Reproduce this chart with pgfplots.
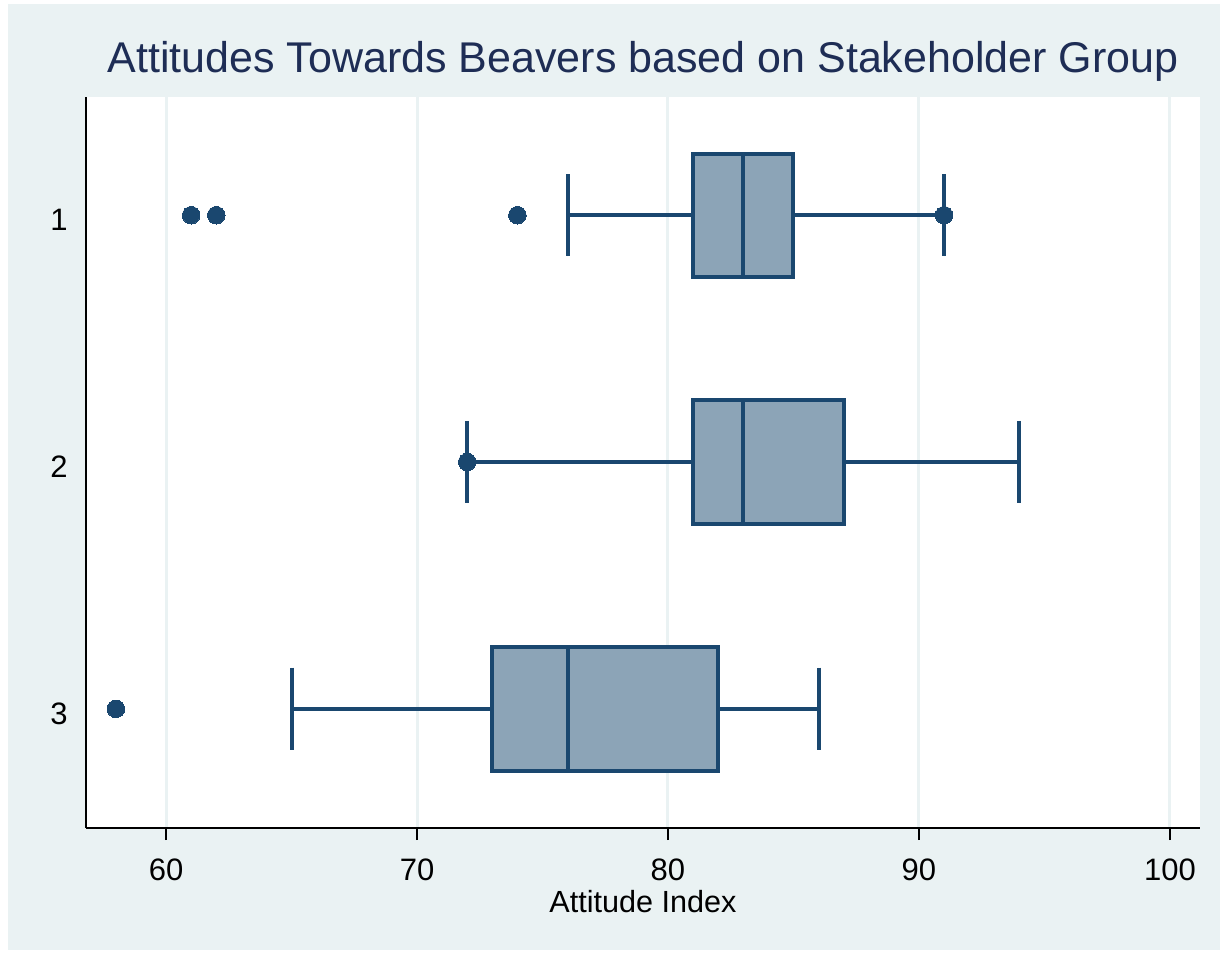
\documentclass[border=0pt]{standalone}
\usepackage{fontspec}
\setmainfont{Liberation Sans}
\usepackage{pgfplots}
\pgfplotsset{compat=1.18}
\usepgfplotslibrary{statistics}
\definecolor{bgc}{RGB}{234,242,243}
\definecolor{gridc}{RGB}{234,242,243}
\definecolor{navy}{RGB}{26,71,111}
\definecolor{boxfill}{RGB}{140,164,183}
\definecolor{titlec}{RGB}{30,45,85}
\begin{document}
\begin{tikzpicture}
\fill[white] (-43bp,-63.5bp) rectangle (571bp,414bp);
\fill[bgc] (-39bp,-61bp) rectangle (567bp,412bp);
\begin{axis}[
  at={(0,0)}, anchor=south west,
  scale only axis, width=557bp, height=365.5bp,
  xmin=56.81, xmax=101.2, ymin=0.521, ymax=3.483, y dir=reverse,
  xtick={60,70,80,90,100}, ytick={1,2,3},
  axis x line*=bottom, axis y line*=left,
  axis line style={-, black, line width=0.75bp},
  axis background/.style={fill=white},
  xmajorgrids, grid style={gridc, line width=1.5bp},
  tick align=outside, major tick length=6bp,
  xtick style={black, line width=0.75bp},
  ytick style={draw=none},
  /pgf/number format/assume math mode=true,
  tick label style={font=\fontsize{15.5bp}{18bp}\selectfont},
  xticklabel style={anchor=base, inner sep=0pt, yshift=-20bp},
  yticklabel style={anchor=east, inner sep=0pt, xshift=-3bp, yshift=-2.5bp},
  xlabel={Attitude Index},
  xlabel style={at={(axis description cs:0.5,0)}, anchor=base, yshift=-42bp, inner sep=0pt, font=\fontsize{15.3bp}{18bp}\selectfont},
  title={Attitudes Towards Beavers based on Stakeholder Group},
  title style={at={(axis description cs:0.5,1)}, anchor=base, yshift=6.5bp, inner sep=0pt, font=\fontsize{21.5bp}{26bp}\selectfont, color=titlec},
  boxplot/box extend=0.5,
  boxplot/whisker extend=0.333,
]
\addplot[boxplot prepared={lower whisker=76, lower quartile=81, median=83, upper quartile=85, upper whisker=91, draw position=1},
  draw=navy, fill=boxfill, line width=2bp, mark=*, mark size=4.4bp, mark options={solid, fill=navy, draw=navy, line width=0pt}]
  table[row sep=\\, y index=0] {61\\62\\74\\91\\};
\addplot[boxplot prepared={lower whisker=72, lower quartile=81, median=83, upper quartile=87, upper whisker=94, draw position=2},
  draw=navy, fill=boxfill, line width=2bp, mark=*, mark size=4.4bp, mark options={solid, fill=navy, draw=navy, line width=0pt}]
  table[row sep=\\, y index=0] {72\\};
\addplot[boxplot prepared={lower whisker=65, lower quartile=73, median=76, upper quartile=82, upper whisker=86, draw position=3},
  draw=navy, fill=boxfill, line width=2bp, mark=*, mark size=4.4bp, mark options={solid, fill=navy, draw=navy, line width=0pt}]
  table[row sep=\\, y index=0] {58\\};
\end{axis}
\end{tikzpicture}
\end{document}
